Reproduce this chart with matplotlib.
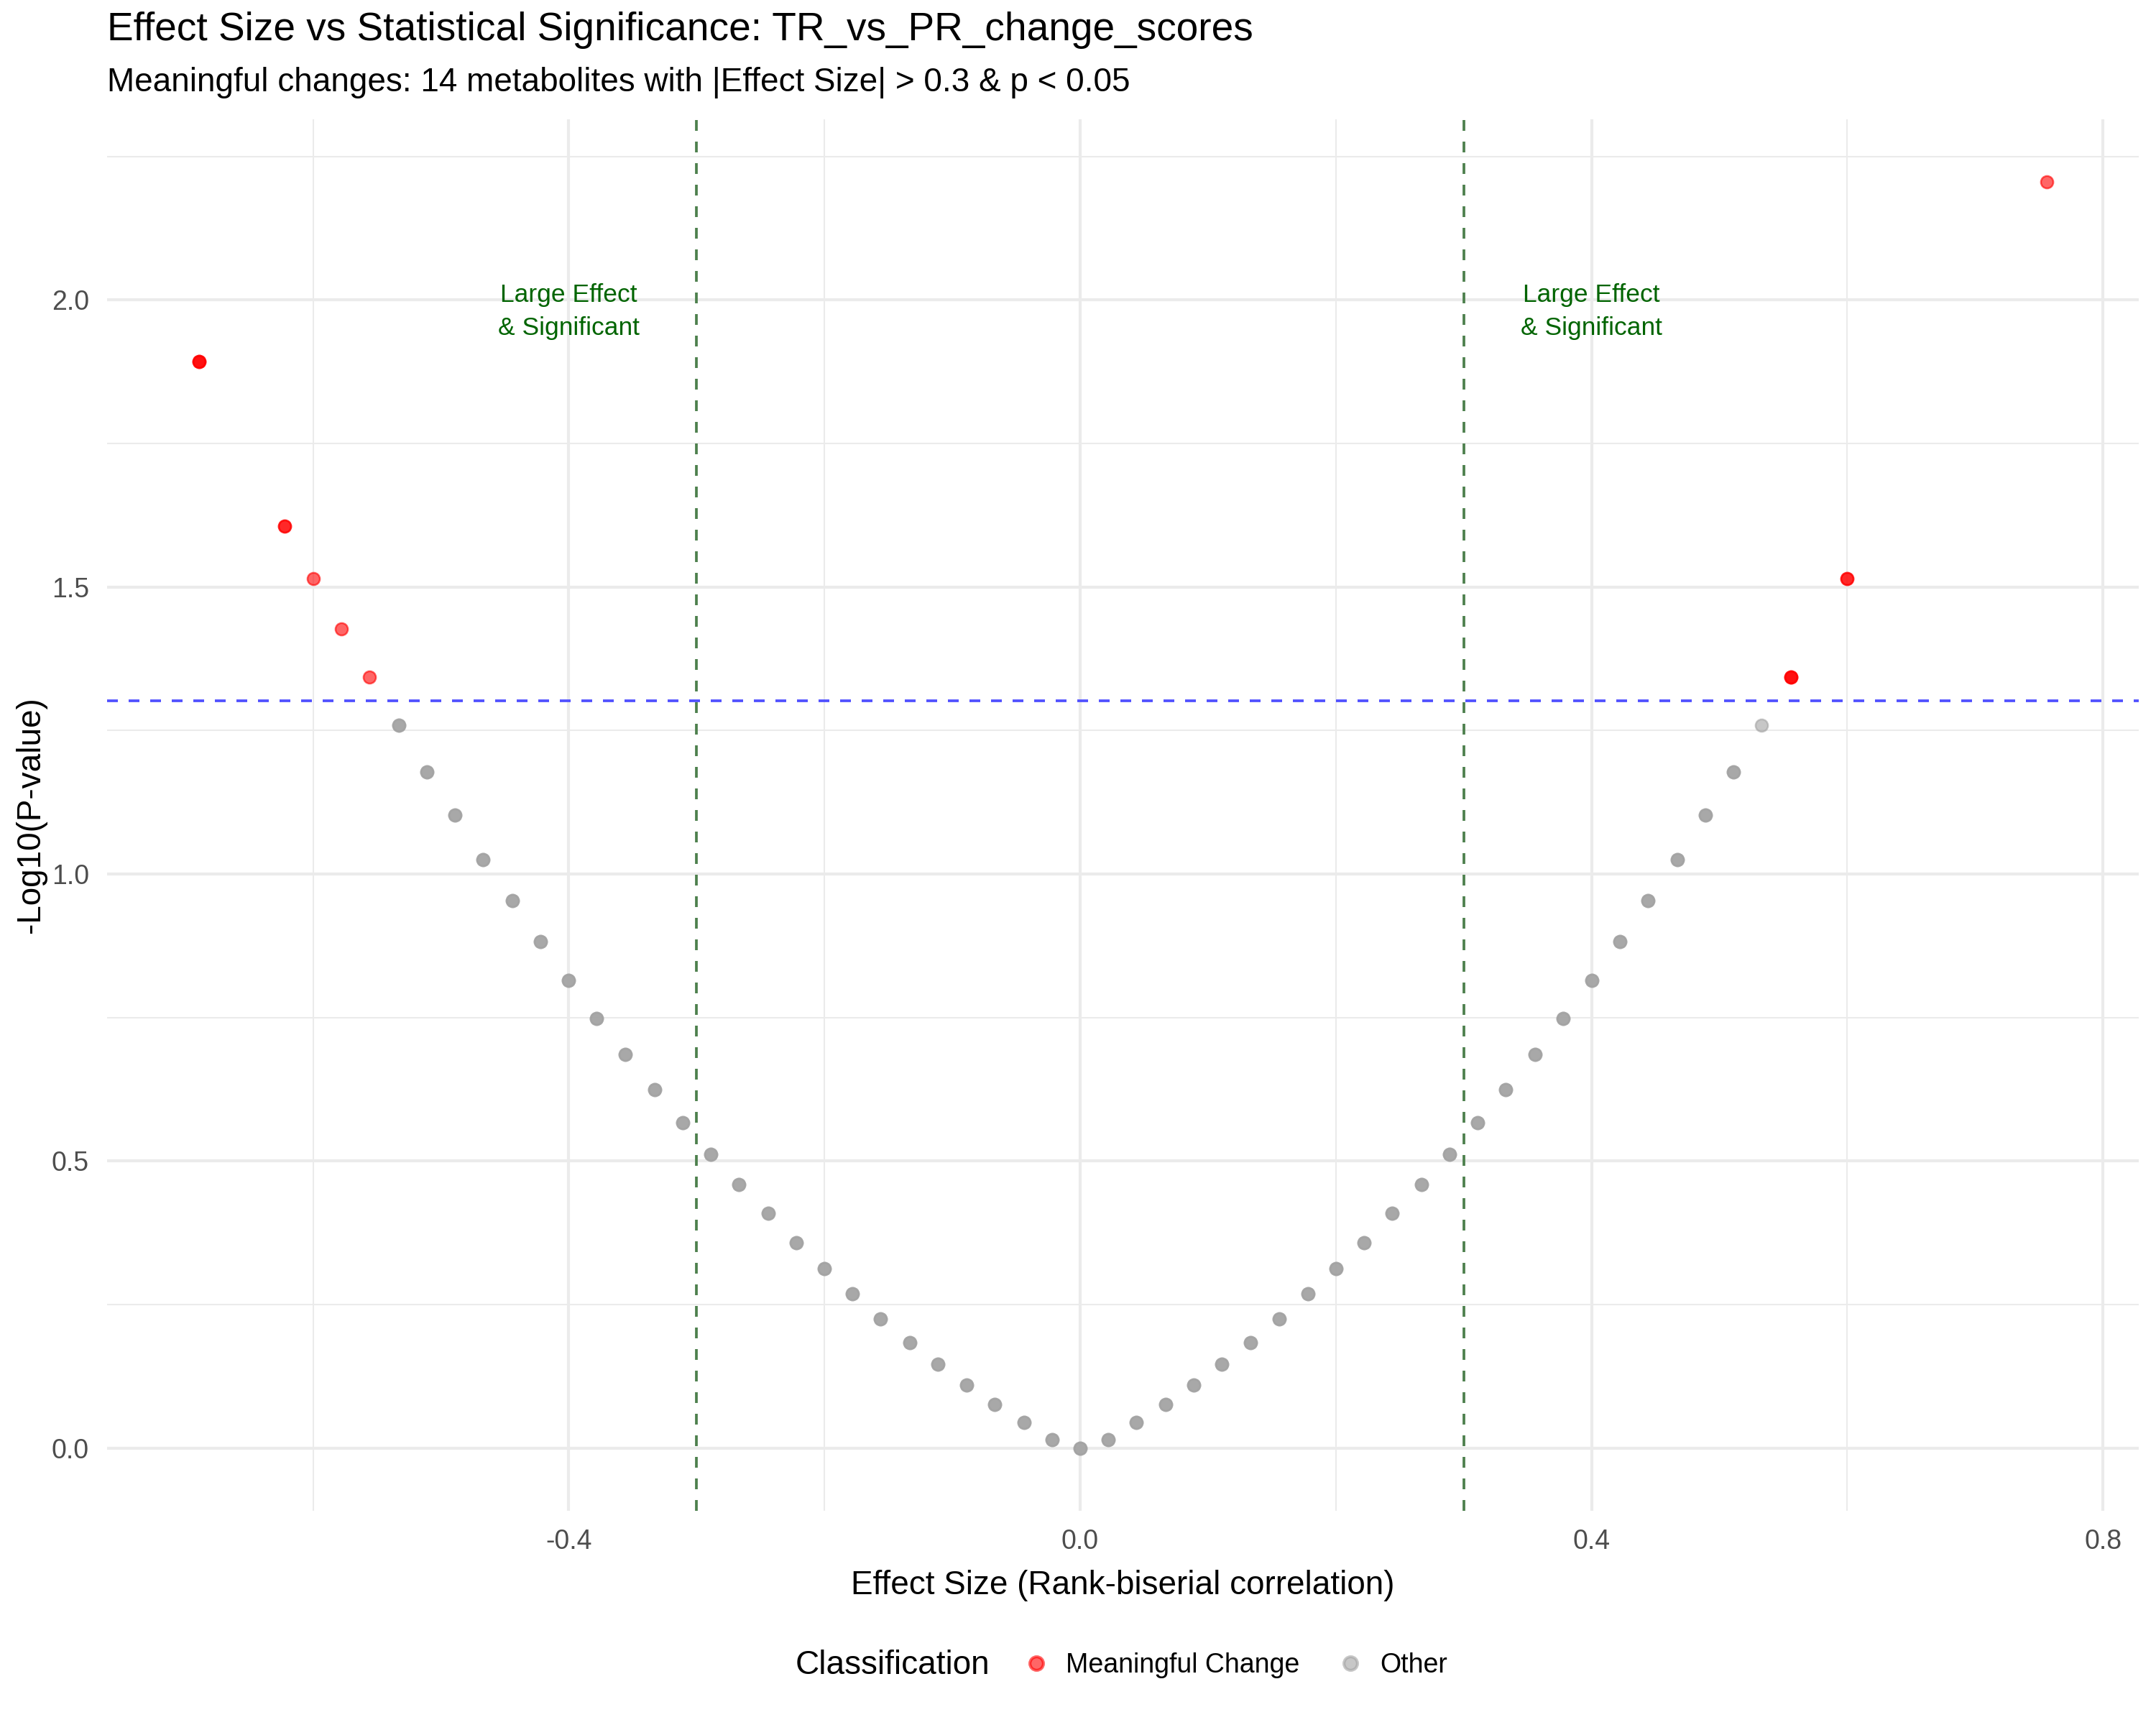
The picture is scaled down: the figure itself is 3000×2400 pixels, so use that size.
import numpy as np
from matplotlib import pyplot as plt
from matplotlib.lines import Line2D

plt.rcParams['font.family'] = ['Liberation Sans', 'DejaVu Sans']

# effect sizes (rank-biserial), with -log10(p) and number of overlapping metabolites
effect = [0.0,
          0.022, 0.044, 0.067, 0.089, 0.111, 0.133, 0.156, 0.178, 0.2, 0.222, 0.244, 0.267,
          0.289, 0.311, 0.333, 0.356, 0.378, 0.4, 0.422, 0.444, 0.467, 0.489, 0.511, 0.533,
          -0.022, -0.044, -0.067, -0.089, -0.111, -0.133, -0.156, -0.178, -0.2, -0.222, -0.244, -0.267,
          -0.289, -0.311, -0.333, -0.356, -0.378, -0.4, -0.422, -0.444, -0.467, -0.489, -0.511, -0.533,
          0.556, 0.6, 0.756,
          -0.556, -0.578, -0.6, -0.622, -0.689]
neglogp = [0.0,
           0.014, 0.045, 0.076, 0.110, 0.146, 0.184, 0.225, 0.268, 0.313, 0.358, 0.409, 0.459,
           0.511, 0.566, 0.624, 0.686, 0.748, 0.815, 0.882, 0.953, 1.025, 1.102, 1.178, 1.259,
           0.014, 0.045, 0.076, 0.110, 0.146, 0.184, 0.225, 0.268, 0.313, 0.358, 0.409, 0.459,
           0.511, 0.566, 0.624, 0.686, 0.748, 0.815, 0.882, 0.953, 1.025, 1.102, 1.178, 1.259,
           1.343, 1.515, 2.205,
           1.343, 1.427, 1.515, 1.606, 1.892]
n_metab = [3,
           3, 3, 3, 3, 3, 3, 3, 3, 3, 3, 3, 3,
           3, 3, 3, 3, 3, 3, 3, 3, 3, 3, 3, 1,
           3, 3, 3, 3, 3, 3, 3, 3, 3, 3, 3, 3,
           3, 3, 3, 3, 3, 3, 3, 3, 3, 3, 3, 3,
           3, 2, 1,
           1, 1, 1, 2, 3]

effect_threshold = 0.3
p_threshold = 0.05

x = np.repeat(effect, n_metab)
y = np.repeat(neglogp, n_metab)
meaningful = (np.abs(x) > effect_threshold) & (y > -np.log10(p_threshold))

fig = plt.figure(figsize=(10, 8), dpi=300)
ax = fig.add_axes([0.0497, 0.124, 0.9423, 0.807])

ax.scatter(x[~meaningful], y[~meaningful], s=17, color="#a3a3a3", alpha=0.6,
           linewidths=0.6, edgecolors="#a3a3a3", zorder=3)
ax.scatter(x[meaningful], y[meaningful], s=17, color="red", alpha=0.6,
           linewidths=0.6, edgecolors="red", zorder=3)

ax.axvline(-effect_threshold, color="#4d804d", linestyle=(0, (4, 4)), linewidth=0.9, zorder=2)
ax.axvline(effect_threshold, color="#4d804d", linestyle=(0, (4, 4)), linewidth=0.9, zorder=2)
ax.axhline(-np.log10(p_threshold), color="#5050ff", linestyle=(0, (4, 4)), linewidth=0.9, zorder=2)

for xa in [-0.4, 0.4]:
    ax.text(xa, 1.98, "Large Effect\n& Significant", color="#006400", fontsize=8.5,
            ha="center", va="center", linespacing=1.5, zorder=4)

ax.set_xlim(-0.761, 0.828)
ax.set_ylim(-0.11, 2.315)
ax.set_xticks([-0.4, 0.0, 0.4, 0.8])
ax.set_xticklabels(["-0.4", "0.0", "0.4", "0.8"])
ax.set_yticks([0.0, 0.5, 1.0, 1.5, 2.0])
ax.set_yticklabels(["0.0", "0.5", "1.0", "1.5", "2.0"])
ax.set_xticks([-0.6, -0.2, 0.2, 0.6], minor=True)
ax.set_yticks([0.25, 0.75, 1.25, 1.75, 2.25], minor=True)
ax.grid(True, which="major", color="#ebebeb", linewidth=1.0, zorder=0)
ax.grid(True, which="minor", color="#ebebeb", linewidth=0.5, zorder=0)
ax.set_axisbelow(True)
for s in ax.spines.values():
    s.set_visible(False)
ax.tick_params(which="both", length=0, labelsize=9, labelcolor="#4d4d4d", pad=6)

ax.set_xlabel("Effect Size (Rank-biserial correlation)", fontsize=11, labelpad=5)
ax.set_ylabel("-Log10(P-value)", fontsize=11, va="center")
ax.yaxis.set_label_coords(-0.0375, 0.5)

fig.text(0.0497, 0.9825, "Effect Size vs Statistical Significance: TR_vs_PR_change_scores",
         fontsize=13.2, va="center", ha="left")
fig.text(0.0497, 0.952, "Meaningful changes: 14 metabolites with |Effect Size| > 0.3 & p < 0.05",
         fontsize=11, va="center", ha="left")

# legend at bottom
fig.text(0.369, 0.0346, "Classification", fontsize=11, va="center", ha="left")
handles = [Line2D([], [], marker="o", linestyle="", color="red", alpha=0.6, markersize=4.5),
           Line2D([], [], marker="o", linestyle="", color="#a3a3a3", alpha=0.6, markersize=4.5)]
fig.legend(handles, ["Meaningful Change", "Other"], loc="center left",
           bbox_to_anchor=(0.463, 0.0346), ncol=2, frameon=False, fontsize=9,
           handletextpad=0.6, columnspacing=1.4, handlelength=1.0)

fig.savefig("out.png", dpi=300, facecolor="white")
